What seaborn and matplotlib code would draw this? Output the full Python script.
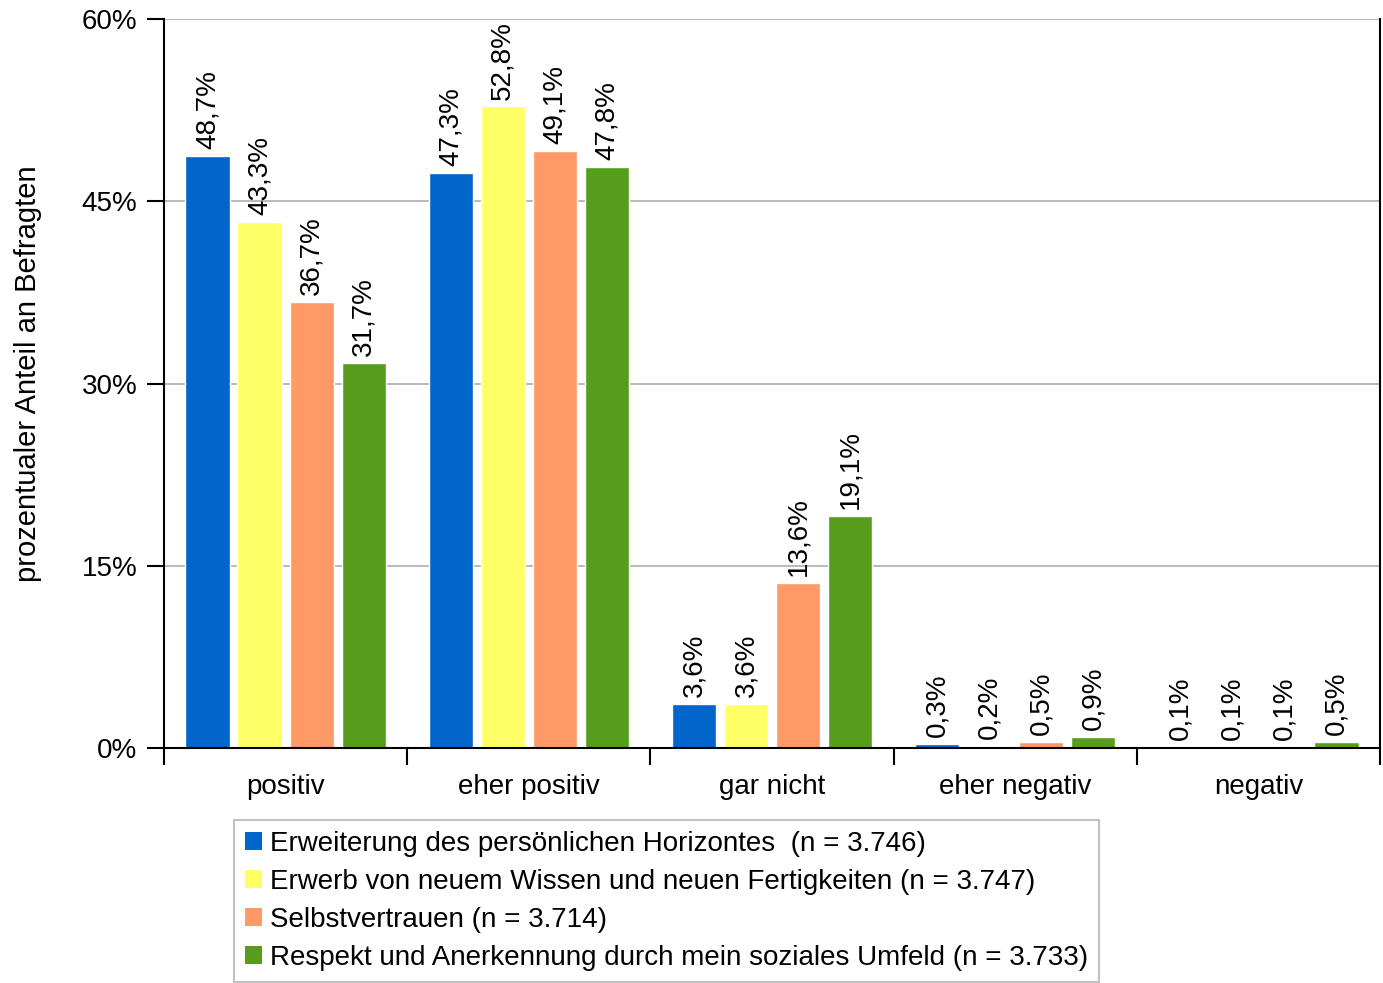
import matplotlib
matplotlib.use("Agg")
import matplotlib.pyplot as plt
import seaborn as sns
import pandas as pd
from matplotlib.patches import Patch
from matplotlib.ticker import FixedLocator

categories = ["positiv", "eher positiv", "gar nicht", "eher negativ", "negativ"]
series = [
    "Erweiterung des persönlichen Horizontes  (n = 3.746)",
    "Erwerb von neuem Wissen und neuen Fertigkeiten (n = 3.747)",
    "Selbstvertrauen (n = 3.714)",
    "Respekt und Anerkennung durch mein soziales Umfeld (n = 3.733)",
]
values_horizont = [48.7, 47.3, 3.6, 0.3, 0.1]
values_wissen = [43.3, 52.8, 3.6, 0.2, 0.1]
values_selbst = [36.7, 49.1, 13.6, 0.5, 0.1]
values_respekt = [31.7, 47.8, 19.1, 0.9, 0.5]
yticks = [0, 15, 30, 45, 60]
colors = ["#0066CC", "#FFFF66", "#FF9966", "#579D1C"]

all_values = [values_horizont, values_wissen, values_selbst, values_respekt]
rows = []
for s, vals in zip(series, all_values):
    for c, v in zip(categories, vals):
        rows.append({"Kategorie": c, "Serie": s, "Wert": v})
df = pd.DataFrame(rows)

sns.set_style("white")
plt.rcParams["font.family"] = ["Liberation Sans", "DejaVu Sans"]
for k in ["text.color", "axes.labelcolor", "xtick.color", "ytick.color"]:
    plt.rcParams[k] = "black"

fig = plt.figure(figsize=(13.83, 9.83), dpi=100)
ax = fig.add_axes([164/1383, 1-748/983, (1380-164)/1383, (748-19)/983])

sns.barplot(data=df, x="Kategorie", y="Wert", hue="Serie", order=categories,
            hue_order=series, palette=colors, width=0.856, gap=0.15,
            saturation=1, legend=False, ax=ax, errorbar=None)

for cont in ax.containers:
    labels = [f"{v:.1f}".replace(".", ",") + "%" for v in cont.datavalues]
    ax.bar_label(cont, labels=labels, rotation=90, padding=5, fontsize=20)

ax.set_ylim(0, 60)
ax.set_xlim(-0.5, 4.5)
ax.set_yticks(yticks)
ax.set_yticklabels([f"{t}%" for t in yticks], fontsize=20)
ax.yaxis.grid(True, color="#B3B3B3", linewidth=1.3)
ax.set_axisbelow(True)
ax.set_xlabel("")
ax.set_ylabel("")
fig.text(28/1383, 1-374/983, "prozentualer Anteil an Befragten", fontsize=21,
         rotation=90, ha="center", va="center")
ax.tick_params(axis="x", which="major", length=0, labelsize=20, pad=19)
ax.xaxis.set_minor_locator(FixedLocator([-0.5, 0.5, 1.5, 2.5, 3.5, 4.5]))
ax.tick_params(axis="x", which="minor", length=12, width=1.5, color="black", bottom=True)
ax.tick_params(axis="y", length=12, width=1.5, color="black", left=True, pad=7)

for side in ["left", "bottom", "right"]:
    ax.spines[side].set_visible(True)
    ax.spines[side].set_color("black")
    ax.spines[side].set_linewidth(1.5)
ax.spines["top"].set_visible(False)

handles = [Patch(facecolor=c, edgecolor="none") for c in colors]
leg = fig.legend(handles, series, loc="upper left",
                 bbox_to_anchor=(234/1383, 1-820/983), fontsize=20,
                 handlelength=0.6, handleheight=0.6, handletextpad=0.3,
                 labelspacing=0.43, borderaxespad=0, frameon=True, fancybox=False,
                 borderpad=0.4)
leg.get_frame().set_edgecolor("#B3B3B3")
leg.get_frame().set_linewidth(1.5)

fig.savefig("out.png", dpi=100)
